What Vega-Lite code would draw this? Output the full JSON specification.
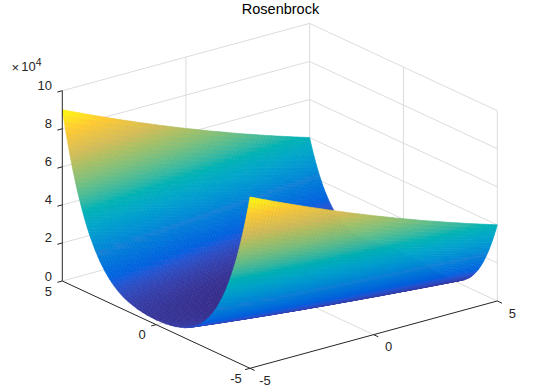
{
"$schema":"https://vega.github.io/schema/vega-lite/v6.json",
"width":543,"height":392,"padding":0,"autosize":"none","background":"white",
"title":{"text":"Rosenbrock","font":"Liberation Sans","fontSize":14.5,"fontWeight":"normal","color":"#000000","offset":-17,"anchor":"middle","dx":9,"frame":"group"},
"config":{"view":{"stroke":null}},
"datasets":{
"surf":[
{"x":5,"y":5,"z":40016},{"x":5,"y":4,"z":44116},{"x":5,"y":3,"z":48416},{"x":5,"y":2,"z":52916},{"x":5,"y":1,"z":57616},{"x":5,"y":0,"z":62516},{"x":5,"y":-1,"z":67616},{"x":5,"y":-2,"z":72916},{"x":5,"y":-3,"z":78416},{"x":5,"y":-4,"z":84116},{"x":5,"y":-5,"z":90016},
{"x":4.9,"y":5,"z":36153},{"x":4.9,"y":4,"z":40055},{"x":4.9,"y":3,"z":44157},{"x":4.9,"y":2,"z":48459},{"x":4.9,"y":1,"z":52961},{"x":4.9,"y":0,"z":57663},{"x":4.9,"y":-1,"z":62565},{"x":4.9,"y":-2,"z":67667},{"x":4.9,"y":-3,"z":72969},{"x":4.9,"y":-4,"z":78471},{"x":4.9,"y":-5,"z":84173},
{"x":4.8,"y":5,"z":32558},{"x":4.8,"y":4,"z":36266},{"x":4.8,"y":3,"z":40174},{"x":4.8,"y":2,"z":44282},{"x":4.8,"y":1,"z":48590},{"x":4.8,"y":0,"z":53098},{"x":4.8,"y":-1,"z":57806},{"x":4.8,"y":-2,"z":62714},{"x":4.8,"y":-3,"z":67822},{"x":4.8,"y":-4,"z":73130},{"x":4.8,"y":-5,"z":78638},
{"x":4.7,"y":5,"z":29221},{"x":4.7,"y":4,"z":32739},{"x":4.7,"y":3,"z":36457},{"x":4.7,"y":2,"z":40375},{"x":4.7,"y":1,"z":44493},{"x":4.7,"y":0,"z":48811},{"x":4.7,"y":-1,"z":53329},{"x":4.7,"y":-2,"z":58047},{"x":4.7,"y":-3,"z":62965},{"x":4.7,"y":-4,"z":68083},{"x":4.7,"y":-5,"z":73401},
{"x":4.6,"y":5,"z":26128},{"x":4.6,"y":4,"z":29460},{"x":4.6,"y":3,"z":32992},{"x":4.6,"y":2,"z":36724},{"x":4.6,"y":1,"z":40656},{"x":4.6,"y":0,"z":44788},{"x":4.6,"y":-1,"z":49120},{"x":4.6,"y":-2,"z":53652},{"x":4.6,"y":-3,"z":58384},{"x":4.6,"y":-4,"z":63316},{"x":4.6,"y":-5,"z":68448},
{"x":4.5,"y":5,"z":23268},{"x":4.5,"y":4,"z":26418},{"x":4.5,"y":3,"z":29768},{"x":4.5,"y":2,"z":33318},{"x":4.5,"y":1,"z":37068},{"x":4.5,"y":0,"z":41018},{"x":4.5,"y":-1,"z":45168},{"x":4.5,"y":-2,"z":49518},{"x":4.5,"y":-3,"z":54068},{"x":4.5,"y":-4,"z":58818},{"x":4.5,"y":-5,"z":63768},
{"x":4.4,"y":5,"z":20633},{"x":4.4,"y":4,"z":23605},{"x":4.4,"y":3,"z":26777},{"x":4.4,"y":2,"z":30149},{"x":4.4,"y":1,"z":33721},{"x":4.4,"y":0,"z":37493},{"x":4.4,"y":-1,"z":41465},{"x":4.4,"y":-2,"z":45637},{"x":4.4,"y":-3,"z":50009},{"x":4.4,"y":-4,"z":54581},{"x":4.4,"y":-5,"z":59353},
{"x":4.3,"y":5,"z":18209},{"x":4.3,"y":4,"z":21007},{"x":4.3,"y":3,"z":24005},{"x":4.3,"y":2,"z":27203},{"x":4.3,"y":1,"z":30601},{"x":4.3,"y":0,"z":34199},{"x":4.3,"y":-1,"z":37997},{"x":4.3,"y":-2,"z":41995},{"x":4.3,"y":-3,"z":46193},{"x":4.3,"y":-4,"z":50591},{"x":4.3,"y":-5,"z":55189},
{"x":4.2,"y":5,"z":15987},{"x":4.2,"y":4,"z":18615},{"x":4.2,"y":3,"z":21443},{"x":4.2,"y":2,"z":24471},{"x":4.2,"y":1,"z":27699},{"x":4.2,"y":0,"z":31127},{"x":4.2,"y":-1,"z":34755},{"x":4.2,"y":-2,"z":38583},{"x":4.2,"y":-3,"z":42611},{"x":4.2,"y":-4,"z":46839},{"x":4.2,"y":-5,"z":51267},
{"x":4.1,"y":5,"z":13958},{"x":4.1,"y":4,"z":16420},{"x":4.1,"y":3,"z":19082},{"x":4.1,"y":2,"z":21944},{"x":4.1,"y":1,"z":25006},{"x":4.1,"y":0,"z":28268},{"x":4.1,"y":-1,"z":31730},{"x":4.1,"y":-2,"z":35392},{"x":4.1,"y":-3,"z":39254},{"x":4.1,"y":-4,"z":43316},{"x":4.1,"y":-5,"z":47578},
{"x":4,"y":5,"z":12109},{"x":4,"y":4,"z":14409},{"x":4,"y":3,"z":16909},{"x":4,"y":2,"z":19609},{"x":4,"y":1,"z":22509},{"x":4,"y":0,"z":25609},{"x":4,"y":-1,"z":28909},{"x":4,"y":-2,"z":32409},{"x":4,"y":-3,"z":36109},{"x":4,"y":-4,"z":40009},{"x":4,"y":-5,"z":44109},
{"x":3.9,"y":5,"z":10432},{"x":3.9,"y":4,"z":12574},{"x":3.9,"y":3,"z":14916},{"x":3.9,"y":2,"z":17458},{"x":3.9,"y":1,"z":20200},{"x":3.9,"y":0,"z":23142},{"x":3.9,"y":-1,"z":26284},{"x":3.9,"y":-2,"z":29626},{"x":3.9,"y":-3,"z":33168},{"x":3.9,"y":-4,"z":36910},{"x":3.9,"y":-5,"z":40852},
{"x":3.8,"y":5,"z":8919},{"x":3.8,"y":4,"z":10907},{"x":3.8,"y":3,"z":13095},{"x":3.8,"y":2,"z":15483},{"x":3.8,"y":1,"z":18071},{"x":3.8,"y":0,"z":20859},{"x":3.8,"y":-1,"z":23847},{"x":3.8,"y":-2,"z":27035},{"x":3.8,"y":-3,"z":30423},{"x":3.8,"y":-4,"z":34011},{"x":3.8,"y":-5,"z":37799},
{"x":3.7,"y":5,"z":7559},{"x":3.7,"y":4,"z":9397},{"x":3.7,"y":3,"z":11435},{"x":3.7,"y":2,"z":13673},{"x":3.7,"y":1,"z":16111},{"x":3.7,"y":0,"z":18749},{"x":3.7,"y":-1,"z":21587},{"x":3.7,"y":-2,"z":24625},{"x":3.7,"y":-3,"z":27863},{"x":3.7,"y":-4,"z":31301},{"x":3.7,"y":-5,"z":34939},
{"x":3.6,"y":5,"z":6343},{"x":3.6,"y":4,"z":8035},{"x":3.6,"y":3,"z":9927},{"x":3.6,"y":2,"z":12019},{"x":3.6,"y":1,"z":14311},{"x":3.6,"y":0,"z":16803},{"x":3.6,"y":-1,"z":19495},{"x":3.6,"y":-2,"z":22387},{"x":3.6,"y":-3,"z":25479},{"x":3.6,"y":-4,"z":28771},{"x":3.6,"y":-5,"z":32263},
{"x":3.5,"y":5,"z":5262},{"x":3.5,"y":4,"z":6812},{"x":3.5,"y":3,"z":8562},{"x":3.5,"y":2,"z":10512},{"x":3.5,"y":1,"z":12662},{"x":3.5,"y":0,"z":15012},{"x":3.5,"y":-1,"z":17562},{"x":3.5,"y":-2,"z":20312},{"x":3.5,"y":-3,"z":23262},{"x":3.5,"y":-4,"z":26412},{"x":3.5,"y":-5,"z":29762},
{"x":3.25,"y":5,"z":3099},{"x":3.25,"y":4,"z":4312},{"x":3.25,"y":3,"z":5724},{"x":3.25,"y":2,"z":7337},{"x":3.25,"y":1,"z":9149},{"x":3.25,"y":0,"z":11162},{"x":3.25,"y":-1,"z":13374},{"x":3.25,"y":-2,"z":15787},{"x":3.25,"y":-3,"z":18399},{"x":3.25,"y":-4,"z":21212},{"x":3.25,"y":-5,"z":24224},
{"x":3,"y":5,"z":1604},{"x":3,"y":4,"z":2504},{"x":3,"y":3,"z":3604},{"x":3,"y":2,"z":4904},{"x":3,"y":1,"z":6404},{"x":3,"y":0,"z":8104},{"x":3,"y":-1,"z":10004},{"x":3,"y":-2,"z":12104},{"x":3,"y":-3,"z":14404},{"x":3,"y":-4,"z":16904},{"x":3,"y":-5,"z":19604},
{"x":2.75,"y":5,"z":660},{"x":2.75,"y":4,"z":1272},{"x":2.75,"y":3,"z":2085},{"x":2.75,"y":2,"z":3097},{"x":2.75,"y":1,"z":4310},{"x":2.75,"y":0,"z":5722},{"x":2.75,"y":-1,"z":7335},{"x":2.75,"y":-2,"z":9147},{"x":2.75,"y":-3,"z":11160},{"x":2.75,"y":-4,"z":13372},{"x":2.75,"y":-5,"z":15785},
{"x":2.5,"y":5,"z":158},{"x":2.5,"y":4,"z":508},{"x":2.5,"y":3,"z":1058},{"x":2.5,"y":2,"z":1808},{"x":2.5,"y":1,"z":2758},{"x":2.5,"y":0,"z":3908},{"x":2.5,"y":-1,"z":5258},{"x":2.5,"y":-2,"z":6808},{"x":2.5,"y":-3,"z":8558},{"x":2.5,"y":-4,"z":10508},{"x":2.5,"y":-5,"z":12658},
{"x":2.25,"y":5,"z":2},{"x":2.25,"y":4,"z":115},{"x":2.25,"y":3,"z":427},{"x":2.25,"y":2,"z":940},{"x":2.25,"y":1,"z":1652},{"x":2.25,"y":0,"z":2565},{"x":2.25,"y":-1,"z":3677},{"x":2.25,"y":-2,"z":4990},{"x":2.25,"y":-3,"z":6502},{"x":2.25,"y":-4,"z":8215},{"x":2.25,"y":-5,"z":10127},
{"x":2,"y":5,"z":101},{"x":2,"y":4,"z":1},{"x":2,"y":3,"z":101},{"x":2,"y":2,"z":401},{"x":2,"y":1,"z":901},{"x":2,"y":0,"z":1601},{"x":2,"y":-1,"z":2501},{"x":2,"y":-2,"z":3601},{"x":2,"y":-3,"z":4901},{"x":2,"y":-4,"z":6401},{"x":2,"y":-5,"z":8101},
{"x":1.75,"y":5,"z":376},{"x":1.75,"y":4,"z":89},{"x":1.75,"y":3,"z":1},{"x":1.75,"y":2,"z":114},{"x":1.75,"y":1,"z":426},{"x":1.75,"y":0,"z":939},{"x":1.75,"y":-1,"z":1651},{"x":1.75,"y":-2,"z":2564},{"x":1.75,"y":-3,"z":3676},{"x":1.75,"y":-4,"z":4989},{"x":1.75,"y":-5,"z":6501},
{"x":1.5,"y":5,"z":756},{"x":1.5,"y":4,"z":306},{"x":1.5,"y":3,"z":56},{"x":1.5,"y":2,"z":6},{"x":1.5,"y":1,"z":156},{"x":1.5,"y":0,"z":506},{"x":1.5,"y":-1,"z":1056},{"x":1.5,"y":-2,"z":1806},{"x":1.5,"y":-3,"z":2756},{"x":1.5,"y":-4,"z":3906},{"x":1.5,"y":-5,"z":5256},
{"x":1,"y":5,"z":1600},{"x":1,"y":4,"z":900},{"x":1,"y":3,"z":400},{"x":1,"y":2,"z":100},{"x":1,"y":1,"z":0},{"x":1,"y":0,"z":100},{"x":1,"y":-1,"z":400},{"x":1,"y":-2,"z":900},{"x":1,"y":-3,"z":1600},{"x":1,"y":-4,"z":2500},{"x":1,"y":-5,"z":3600},
{"x":0.5,"y":5,"z":2256},{"x":0.5,"y":4,"z":1406},{"x":0.5,"y":3,"z":756},{"x":0.5,"y":2,"z":306},{"x":0.5,"y":1,"z":56},{"x":0.5,"y":0,"z":6},{"x":0.5,"y":-1,"z":156},{"x":0.5,"y":-2,"z":506},{"x":0.5,"y":-3,"z":1056},{"x":0.5,"y":-4,"z":1806},{"x":0.5,"y":-5,"z":2756},
{"x":0,"y":5,"z":2501},{"x":0,"y":4,"z":1601},{"x":0,"y":3,"z":901},{"x":0,"y":2,"z":401},{"x":0,"y":1,"z":101},{"x":0,"y":0,"z":1},{"x":0,"y":-1,"z":101},{"x":0,"y":-2,"z":401},{"x":0,"y":-3,"z":901},{"x":0,"y":-4,"z":1601},{"x":0,"y":-5,"z":2501},
{"x":-0.5,"y":5,"z":2258},{"x":-0.5,"y":4,"z":1408},{"x":-0.5,"y":3,"z":758},{"x":-0.5,"y":2,"z":308},{"x":-0.5,"y":1,"z":58},{"x":-0.5,"y":0,"z":8},{"x":-0.5,"y":-1,"z":158},{"x":-0.5,"y":-2,"z":508},{"x":-0.5,"y":-3,"z":1058},{"x":-0.5,"y":-4,"z":1808},{"x":-0.5,"y":-5,"z":2758},
{"x":-1,"y":5,"z":1604},{"x":-1,"y":4,"z":904},{"x":-1,"y":3,"z":404},{"x":-1,"y":2,"z":104},{"x":-1,"y":1,"z":4},{"x":-1,"y":0,"z":104},{"x":-1,"y":-1,"z":404},{"x":-1,"y":-2,"z":904},{"x":-1,"y":-3,"z":1604},{"x":-1,"y":-4,"z":2504},{"x":-1,"y":-5,"z":3604},
{"x":-1.5,"y":5,"z":762},{"x":-1.5,"y":4,"z":312},{"x":-1.5,"y":3,"z":62},{"x":-1.5,"y":2,"z":12},{"x":-1.5,"y":1,"z":162},{"x":-1.5,"y":0,"z":512},{"x":-1.5,"y":-1,"z":1062},{"x":-1.5,"y":-2,"z":1812},{"x":-1.5,"y":-3,"z":2762},{"x":-1.5,"y":-4,"z":3912},{"x":-1.5,"y":-5,"z":5262},
{"x":-1.75,"y":5,"z":383},{"x":-1.75,"y":4,"z":96},{"x":-1.75,"y":3,"z":8},{"x":-1.75,"y":2,"z":121},{"x":-1.75,"y":1,"z":433},{"x":-1.75,"y":0,"z":946},{"x":-1.75,"y":-1,"z":1658},{"x":-1.75,"y":-2,"z":2571},{"x":-1.75,"y":-3,"z":3683},{"x":-1.75,"y":-4,"z":4996},{"x":-1.75,"y":-5,"z":6508},
{"x":-2,"y":5,"z":109},{"x":-2,"y":4,"z":9},{"x":-2,"y":3,"z":109},{"x":-2,"y":2,"z":409},{"x":-2,"y":1,"z":909},{"x":-2,"y":0,"z":1609},{"x":-2,"y":-1,"z":2509},{"x":-2,"y":-2,"z":3609},{"x":-2,"y":-3,"z":4909},{"x":-2,"y":-4,"z":6409},{"x":-2,"y":-5,"z":8109},
{"x":-2.25,"y":5,"z":11},{"x":-2.25,"y":4,"z":124},{"x":-2.25,"y":3,"z":436},{"x":-2.25,"y":2,"z":949},{"x":-2.25,"y":1,"z":1661},{"x":-2.25,"y":0,"z":2574},{"x":-2.25,"y":-1,"z":3686},{"x":-2.25,"y":-2,"z":4999},{"x":-2.25,"y":-3,"z":6511},{"x":-2.25,"y":-4,"z":8224},{"x":-2.25,"y":-5,"z":10136},
{"x":-2.5,"y":5,"z":168},{"x":-2.5,"y":4,"z":518},{"x":-2.5,"y":3,"z":1068},{"x":-2.5,"y":2,"z":1818},{"x":-2.5,"y":1,"z":2768},{"x":-2.5,"y":0,"z":3918},{"x":-2.5,"y":-1,"z":5268},{"x":-2.5,"y":-2,"z":6818},{"x":-2.5,"y":-3,"z":8568},{"x":-2.5,"y":-4,"z":10518},{"x":-2.5,"y":-5,"z":12668},
{"x":-2.75,"y":5,"z":671},{"x":-2.75,"y":4,"z":1283},{"x":-2.75,"y":3,"z":2096},{"x":-2.75,"y":2,"z":3108},{"x":-2.75,"y":1,"z":4321},{"x":-2.75,"y":0,"z":5733},{"x":-2.75,"y":-1,"z":7346},{"x":-2.75,"y":-2,"z":9158},{"x":-2.75,"y":-3,"z":11171},{"x":-2.75,"y":-4,"z":13383},{"x":-2.75,"y":-5,"z":15796},
{"x":-3,"y":5,"z":1616},{"x":-3,"y":4,"z":2516},{"x":-3,"y":3,"z":3616},{"x":-3,"y":2,"z":4916},{"x":-3,"y":1,"z":6416},{"x":-3,"y":0,"z":8116},{"x":-3,"y":-1,"z":10016},{"x":-3,"y":-2,"z":12116},{"x":-3,"y":-3,"z":14416},{"x":-3,"y":-4,"z":16916},{"x":-3,"y":-5,"z":19616},
{"x":-3.25,"y":5,"z":3112},{"x":-3.25,"y":4,"z":4325},{"x":-3.25,"y":3,"z":5737},{"x":-3.25,"y":2,"z":7350},{"x":-3.25,"y":1,"z":9162},{"x":-3.25,"y":0,"z":11175},{"x":-3.25,"y":-1,"z":13387},{"x":-3.25,"y":-2,"z":15800},{"x":-3.25,"y":-3,"z":18412},{"x":-3.25,"y":-4,"z":21225},{"x":-3.25,"y":-5,"z":24237},
{"x":-3.5,"y":5,"z":5276},{"x":-3.5,"y":4,"z":6826},{"x":-3.5,"y":3,"z":8576},{"x":-3.5,"y":2,"z":10526},{"x":-3.5,"y":1,"z":12676},{"x":-3.5,"y":0,"z":15026},{"x":-3.5,"y":-1,"z":17576},{"x":-3.5,"y":-2,"z":20326},{"x":-3.5,"y":-3,"z":23276},{"x":-3.5,"y":-4,"z":26426},{"x":-3.5,"y":-5,"z":29776},
{"x":-3.6,"y":5,"z":6357},{"x":-3.6,"y":4,"z":8049},{"x":-3.6,"y":3,"z":9941},{"x":-3.6,"y":2,"z":12033},{"x":-3.6,"y":1,"z":14325},{"x":-3.6,"y":0,"z":16817},{"x":-3.6,"y":-1,"z":19509},{"x":-3.6,"y":-2,"z":22401},{"x":-3.6,"y":-3,"z":25493},{"x":-3.6,"y":-4,"z":28785},{"x":-3.6,"y":-5,"z":32277},
{"x":-3.7,"y":5,"z":7574},{"x":-3.7,"y":4,"z":9412},{"x":-3.7,"y":3,"z":11450},{"x":-3.7,"y":2,"z":13688},{"x":-3.7,"y":1,"z":16126},{"x":-3.7,"y":0,"z":18764},{"x":-3.7,"y":-1,"z":21602},{"x":-3.7,"y":-2,"z":24640},{"x":-3.7,"y":-3,"z":27878},{"x":-3.7,"y":-4,"z":31316},{"x":-3.7,"y":-5,"z":34954},
{"x":-3.8,"y":5,"z":8934},{"x":-3.8,"y":4,"z":10922},{"x":-3.8,"y":3,"z":13110},{"x":-3.8,"y":2,"z":15498},{"x":-3.8,"y":1,"z":18086},{"x":-3.8,"y":0,"z":20874},{"x":-3.8,"y":-1,"z":23862},{"x":-3.8,"y":-2,"z":27050},{"x":-3.8,"y":-3,"z":30438},{"x":-3.8,"y":-4,"z":34026},{"x":-3.8,"y":-5,"z":37814},
{"x":-3.9,"y":5,"z":10448},{"x":-3.9,"y":4,"z":12590},{"x":-3.9,"y":3,"z":14932},{"x":-3.9,"y":2,"z":17474},{"x":-3.9,"y":1,"z":20216},{"x":-3.9,"y":0,"z":23158},{"x":-3.9,"y":-1,"z":26300},{"x":-3.9,"y":-2,"z":29642},{"x":-3.9,"y":-3,"z":33184},{"x":-3.9,"y":-4,"z":36926},{"x":-3.9,"y":-5,"z":40868},
{"x":-4,"y":5,"z":12125},{"x":-4,"y":4,"z":14425},{"x":-4,"y":3,"z":16925},{"x":-4,"y":2,"z":19625},{"x":-4,"y":1,"z":22525},{"x":-4,"y":0,"z":25625},{"x":-4,"y":-1,"z":28925},{"x":-4,"y":-2,"z":32425},{"x":-4,"y":-3,"z":36125},{"x":-4,"y":-4,"z":40025},{"x":-4,"y":-5,"z":44125},
{"x":-4.1,"y":5,"z":13974},{"x":-4.1,"y":4,"z":16436},{"x":-4.1,"y":3,"z":19098},{"x":-4.1,"y":2,"z":21960},{"x":-4.1,"y":1,"z":25022},{"x":-4.1,"y":0,"z":28284},{"x":-4.1,"y":-1,"z":31746},{"x":-4.1,"y":-2,"z":35408},{"x":-4.1,"y":-3,"z":39270},{"x":-4.1,"y":-4,"z":43332},{"x":-4.1,"y":-5,"z":47594},
{"x":-4.2,"y":5,"z":16004},{"x":-4.2,"y":4,"z":18632},{"x":-4.2,"y":3,"z":21460},{"x":-4.2,"y":2,"z":24488},{"x":-4.2,"y":1,"z":27716},{"x":-4.2,"y":0,"z":31144},{"x":-4.2,"y":-1,"z":34772},{"x":-4.2,"y":-2,"z":38600},{"x":-4.2,"y":-3,"z":42628},{"x":-4.2,"y":-4,"z":46856},{"x":-4.2,"y":-5,"z":51284},
{"x":-4.3,"y":5,"z":18226},{"x":-4.3,"y":4,"z":21024},{"x":-4.3,"y":3,"z":24022},{"x":-4.3,"y":2,"z":27220},{"x":-4.3,"y":1,"z":30618},{"x":-4.3,"y":0,"z":34216},{"x":-4.3,"y":-1,"z":38014},{"x":-4.3,"y":-2,"z":42012},{"x":-4.3,"y":-3,"z":46210},{"x":-4.3,"y":-4,"z":50608},{"x":-4.3,"y":-5,"z":55206},
{"x":-4.4,"y":5,"z":20650},{"x":-4.4,"y":4,"z":23622},{"x":-4.4,"y":3,"z":26794},{"x":-4.4,"y":2,"z":30166},{"x":-4.4,"y":1,"z":33738},{"x":-4.4,"y":0,"z":37510},{"x":-4.4,"y":-1,"z":41482},{"x":-4.4,"y":-2,"z":45654},{"x":-4.4,"y":-3,"z":50026},{"x":-4.4,"y":-4,"z":54598},{"x":-4.4,"y":-5,"z":59370},
{"x":-4.5,"y":5,"z":23286},{"x":-4.5,"y":4,"z":26436},{"x":-4.5,"y":3,"z":29786},{"x":-4.5,"y":2,"z":33336},{"x":-4.5,"y":1,"z":37086},{"x":-4.5,"y":0,"z":41036},{"x":-4.5,"y":-1,"z":45186},{"x":-4.5,"y":-2,"z":49536},{"x":-4.5,"y":-3,"z":54086},{"x":-4.5,"y":-4,"z":58836},{"x":-4.5,"y":-5,"z":63786},
{"x":-4.6,"y":5,"z":26146},{"x":-4.6,"y":4,"z":29478},{"x":-4.6,"y":3,"z":33010},{"x":-4.6,"y":2,"z":36742},{"x":-4.6,"y":1,"z":40674},{"x":-4.6,"y":0,"z":44806},{"x":-4.6,"y":-1,"z":49138},{"x":-4.6,"y":-2,"z":53670},{"x":-4.6,"y":-3,"z":58402},{"x":-4.6,"y":-4,"z":63334},{"x":-4.6,"y":-5,"z":68466},
{"x":-4.7,"y":5,"z":29239},{"x":-4.7,"y":4,"z":32757},{"x":-4.7,"y":3,"z":36475},{"x":-4.7,"y":2,"z":40393},{"x":-4.7,"y":1,"z":44511},{"x":-4.7,"y":0,"z":48829},{"x":-4.7,"y":-1,"z":53347},{"x":-4.7,"y":-2,"z":58065},{"x":-4.7,"y":-3,"z":62983},{"x":-4.7,"y":-4,"z":68101},{"x":-4.7,"y":-5,"z":73419},
{"x":-4.8,"y":5,"z":32578},{"x":-4.8,"y":4,"z":36286},{"x":-4.8,"y":3,"z":40194},{"x":-4.8,"y":2,"z":44302},{"x":-4.8,"y":1,"z":48610},{"x":-4.8,"y":0,"z":53118},{"x":-4.8,"y":-1,"z":57826},{"x":-4.8,"y":-2,"z":62734},{"x":-4.8,"y":-3,"z":67842},{"x":-4.8,"y":-4,"z":73150},{"x":-4.8,"y":-5,"z":78658},
{"x":-4.9,"y":5,"z":36173},{"x":-4.9,"y":4,"z":40075},{"x":-4.9,"y":3,"z":44177},{"x":-4.9,"y":2,"z":48479},{"x":-4.9,"y":1,"z":52981},{"x":-4.9,"y":0,"z":57683},{"x":-4.9,"y":-1,"z":62585},{"x":-4.9,"y":-2,"z":67687},{"x":-4.9,"y":-3,"z":72989},{"x":-4.9,"y":-4,"z":78491},{"x":-4.9,"y":-5,"z":84193},
{"x":-5,"y":5,"z":40036},{"x":-5,"y":4,"z":44136},{"x":-5,"y":3,"z":48436},{"x":-5,"y":2,"z":52936},{"x":-5,"y":1,"z":57636},{"x":-5,"y":0,"z":62536},{"x":-5,"y":-1,"z":67636},{"x":-5,"y":-2,"z":72936},{"x":-5,"y":-3,"z":78436},{"x":-5,"y":-4,"z":84136},{"x":-5,"y":-5,"z":90036}
],
"grid":[
{"x":5,"y":-5,"z":0,"xb":5,"yb":5,"zb":0},{"x":5,"y":5,"z":0,"xb":-5,"yb":5,"zb":0},
{"x":5,"y":-5,"z":20000,"xb":5,"yb":5,"zb":20000},{"x":5,"y":5,"z":20000,"xb":-5,"yb":5,"zb":20000},
{"x":5,"y":-5,"z":40000,"xb":5,"yb":5,"zb":40000},{"x":5,"y":5,"z":40000,"xb":-5,"yb":5,"zb":40000},
{"x":5,"y":-5,"z":60000,"xb":5,"yb":5,"zb":60000},{"x":5,"y":5,"z":60000,"xb":-5,"yb":5,"zb":60000},
{"x":5,"y":-5,"z":80000,"xb":5,"yb":5,"zb":80000},{"x":5,"y":5,"z":80000,"xb":-5,"yb":5,"zb":80000},
{"x":5,"y":-5,"z":100000,"xb":5,"yb":5,"zb":100000},{"x":5,"y":5,"z":100000,"xb":-5,"yb":5,"zb":100000},
{"x":5,"y":0,"z":0,"xb":5,"yb":0,"zb":100000},{"x":5,"y":5,"z":0,"xb":5,"yb":5,"zb":100000},
{"x":0,"y":5,"z":0,"xb":0,"yb":5,"zb":100000},{"x":-5,"y":5,"z":0,"xb":-5,"yb":5,"zb":100000},
{"x":0,"y":-5,"z":0,"xb":0,"yb":5,"zb":0},{"x":5,"y":0,"z":0,"xb":-5,"yb":0,"zb":0}
],
"axes":[
{"x":5,"y":-5,"z":0,"xb":5,"yb":-5,"zb":100000},
{"x":5,"y":-5,"z":0,"xb":-5,"yb":-5,"zb":0},
{"x":-5,"y":-5,"z":0,"xb":-5,"yb":5,"zb":0},
{"x":5,"y":-5,"z":0,"xb":5,"yb":-5.2,"zb":0},
{"x":5,"y":-5,"z":20000,"xb":5,"yb":-5.2,"zb":20000},
{"x":5,"y":-5,"z":40000,"xb":5,"yb":-5.2,"zb":40000},
{"x":5,"y":-5,"z":60000,"xb":5,"yb":-5.2,"zb":60000},
{"x":5,"y":-5,"z":80000,"xb":5,"yb":-5.2,"zb":80000},
{"x":5,"y":-5,"z":100000,"xb":5,"yb":-5.2,"zb":100000},
{"x":0,"y":-5,"z":0,"xb":0,"yb":-5.2,"zb":0},
{"x":-5,"y":-5,"z":0,"xb":-5,"yb":-5.2,"zb":0},
{"x":-5,"y":-5,"z":0,"xb":-5.25,"yb":-5,"zb":0},
{"x":-5,"y":0,"z":0,"xb":-5.25,"yb":0,"zb":0},
{"x":-5,"y":5,"z":0,"xb":-5.25,"yb":5,"zb":0}
],
"zlabels":[
{"x":5,"y":-5,"z":0,"label":"0"},{"x":5,"y":-5,"z":20000,"label":"2"},{"x":5,"y":-5,"z":40000,"label":"4"},{"x":5,"y":-5,"z":60000,"label":"6"},{"x":5,"y":-5,"z":80000,"label":"8"},{"x":5,"y":-5,"z":100000,"label":"10"}
],
"xlabels":[
{"x":5,"y":-5,"z":0,"label":"5"},{"x":0,"y":-5,"z":0,"label":"0"},{"x":-5,"y":-5,"z":0,"label":"-5"}
],
"ylabels":[
{"x":-5,"y":-5,"z":0,"label":"-5"},{"x":-5,"y":0,"z":0,"label":"0"},{"x":-5,"y":5,"z":0,"label":"5"}
]
},
"data":{"name":"surf"},
"encoding":{
"x":{"field":"sx","type":"quantitative","scale":{"domain":[0,543],"nice":false,"zero":false},"axis":null},
"y":{"field":"sy","type":"quantitative","scale":{"domain":[392,0],"nice":false,"zero":false},"axis":null}
},
"layer":[
{"data":{"name":"grid"},
"transform":[
{"calculate":"279.8-18.77*datum.x+24.73*datum.y","as":"sx"},
{"calculate":"291-8.73*datum.x-6.73*datum.y-0.001903*datum.z","as":"sy"},
{"calculate":"279.8-18.77*datum.xb+24.73*datum.yb","as":"sxb"},
{"calculate":"291-8.73*datum.xb-6.73*datum.yb-0.001903*datum.zb","as":"syb"}],
"mark":{"type":"rule","color":"#dcdcdc","strokeWidth":1},
"encoding":{"x2":{"field":"sxb"},"y2":{"field":"syb"}}},
{"transform":[
{"window":[{"op":"lead","field":"x","as":"nx"},{"op":"lead","field":"z","as":"zx"}],"groupby":["y"],"sort":[{"field":"x","order":"ascending"}]},
{"window":[{"op":"lead","field":"y","as":"ny"},{"op":"lead","field":"z","as":"zy"},{"op":"lead","field":"zx","as":"zxy"}],"groupby":["x"],"sort":[{"field":"y","order":"ascending"}]},
{"filter":"datum.nx!=null&&datum.ny!=null"},
{"calculate":"[0.5,0]","as":"u"},
{"flatten":["u"]},
{"calculate":"[0.875,0.75,0.625,0.5,0.375,0.25,0.125,0]","as":"v"},
{"flatten":["v"]},
{"calculate":"datum.x+'_'+datum.y+'_'+datum.u+'_'+datum.v","as":"id"},
{"calculate":"datum.u+0.25","as":"mu"},
{"calculate":"datum.v+0.0625","as":"mv"},
{"calculate":"datum.z*(1-datum.mu)*(1-datum.mv)+datum.zx*datum.mu*(1-datum.mv)+datum.zy*(1-datum.mu)*datum.mv+datum.zxy*datum.mu*datum.mv","as":"zc"},
{"calculate":"[0,1,2,3]","as":"c"},
{"flatten":["c"]},
{"calculate":"datum.u+((datum.c==1||datum.c==2)?0.5:0)","as":"fu"},
{"calculate":"datum.v+(datum.c>=2?0.125:0)","as":"fv"},
{"calculate":"datum.z*(1-datum.fu)*(1-datum.fv)+datum.zx*datum.fu*(1-datum.fv)+datum.zy*(1-datum.fu)*datum.fv+datum.zxy*datum.fu*datum.fv","as":"cz"},
{"calculate":"datum.x+(datum.nx-datum.x)*datum.fu","as":"cx"},
{"calculate":"datum.y+(datum.ny-datum.y)*datum.fv","as":"cy"},
{"calculate":"279.8-18.77*datum.cx+24.73*datum.cy","as":"sx"},
{"calculate":"291-8.73*datum.cx-6.73*datum.cy-0.001903*datum.cz","as":"sy"}],
"mark":{"type":"line","strokeWidth":0.6,"interpolate":"linear-closed"},
"encoding":{
"detail":{"field":"id"},
"order":{"field":"c","type":"quantitative"},
"fill":{"field":"zc","type":"quantitative","legend":null,"scale":{"domain":[0,11254.5,22509,33763.5,45018,56272.5,67527,78781.5,90036],"range":["#352a87","#0f5cdd","#1481d6","#06a4ca","#2eb7a4","#87bf77","#d1bb59","#fec832","#f9fb0e"]}},
"stroke":{"field":"zc","type":"quantitative","legend":null,"scale":{"domain":[0,11254.5,22509,33763.5,45018,56272.5,67527,78781.5,90036],"range":["#352a87","#0f5cdd","#1481d6","#06a4ca","#2eb7a4","#87bf77","#d1bb59","#fec832","#f9fb0e"]}}
}},
{"data":{"name":"axes"},
"transform":[
{"calculate":"279.8-18.77*datum.x+24.73*datum.y","as":"sx"},
{"calculate":"291-8.73*datum.x-6.73*datum.y-0.001903*datum.z","as":"sy"},
{"calculate":"279.8-18.77*datum.xb+24.73*datum.yb","as":"sxb"},
{"calculate":"291-8.73*datum.xb-6.73*datum.yb-0.001903*datum.zb","as":"syb"}],
"mark":{"type":"rule","color":"#262626","strokeWidth":1},
"encoding":{"x2":{"field":"sxb"},"y2":{"field":"syb"}}},
{"data":{"name":"zlabels"},
"transform":[{"calculate":"279.8-18.77*datum.x+24.73*datum.y","as":"sx"},{"calculate":"291-8.73*datum.x-6.73*datum.y-0.001903*datum.z","as":"sy"}],
"mark":{"type":"text","font":"Liberation Sans","fontSize":13,"color":"#262626","align":"right","baseline":"middle","dx":-10.3,"dy":-4.5},
"encoding":{"text":{"field":"label"}}},
{"data":{"name":"xlabels"},
"transform":[{"calculate":"279.8-18.77*datum.x+24.73*datum.y","as":"sx"},{"calculate":"291-8.73*datum.x-6.73*datum.y-0.001903*datum.z","as":"sy"}],
"mark":{"type":"text","font":"Liberation Sans","fontSize":13,"color":"#262626","align":"center","baseline":"middle","dx":-14,"dy":10.5},
"encoding":{"text":{"field":"label"}}},
{"data":{"name":"ylabels"},
"transform":[{"calculate":"279.8-18.77*datum.x+24.73*datum.y","as":"sx"},{"calculate":"291-8.73*datum.x-6.73*datum.y-0.001903*datum.z","as":"sy"}],
"mark":{"type":"text","font":"Liberation Sans","fontSize":13,"color":"#262626","align":"center","baseline":"middle","dx":15,"dy":12.5},
"encoding":{"text":{"field":"label"}}},
{"data":{"values":[{"x":5,"y":-5,"z":100000,"label":"×"}]},
"transform":[{"calculate":"279.8-18.77*datum.x+24.73*datum.y","as":"sx"},{"calculate":"291-8.73*datum.x-6.73*datum.y-0.001903*datum.z","as":"sy"}],
"mark":{"type":"text","font":"Liberation Sans","fontSize":13,"color":"#262626","align":"center","baseline":"middle","dx":-47,"dy":-23},
"encoding":{"text":{"field":"label"}}},
{"data":{"values":[{"x":5,"y":-5,"z":100000,"label":"10"}]},
"transform":[{"calculate":"279.8-18.77*datum.x+24.73*datum.y","as":"sx"},{"calculate":"291-8.73*datum.x-6.73*datum.y-0.001903*datum.z","as":"sy"}],
"mark":{"type":"text","font":"Liberation Sans","fontSize":13,"color":"#262626","align":"left","baseline":"middle","dx":-41,"dy":-23.5},
"encoding":{"text":{"field":"label"}}},
{"data":{"values":[{"x":5,"y":-5,"z":100000,"label":"4"}]},
"transform":[{"calculate":"279.8-18.77*datum.x+24.73*datum.y","as":"sx"},{"calculate":"291-8.73*datum.x-6.73*datum.y-0.001903*datum.z","as":"sy"}],
"mark":{"type":"text","font":"Liberation Sans","fontSize":10.5,"color":"#262626","align":"left","baseline":"middle","dx":-26.5,"dy":-28},
"encoding":{"text":{"field":"label"}}}
]
}
